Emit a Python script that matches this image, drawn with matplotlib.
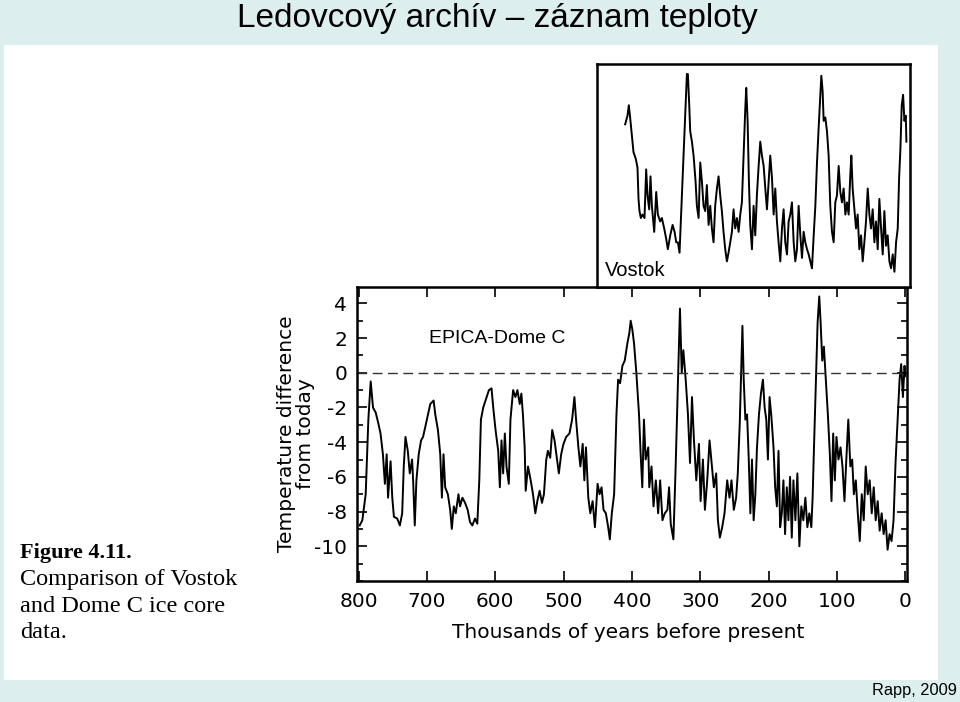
import matplotlib.pyplot as plt
from matplotlib.patches import Rectangle
from matplotlib.ticker import MultipleLocator

plt.rcParams['axes.unicode_minus'] = False

# EPICA Dome C, ka BP and temperature difference (deg C)
epica_age = [798.5, 794.6, 789.7, 785.8, 782.4, 779.0, 775.0, 771.3, 768.0, 764.5,
             761.6, 759.0, 757.0, 753.3, 750.8, 748.4, 743.6, 739.7, 736.3, 734.0,
             731.5, 728.1, 725.2, 721.8, 720.3, 717.9, 715.5, 712.1, 708.7, 705.8,
             702.4, 698.6, 695.2, 690.3, 687.9, 684.0, 680.6, 678.2, 675.8, 673.4,
             669.5, 666.1, 663.7, 660.8, 657.9, 654.0, 651.6, 648.2, 644.3, 640.5,
             637.1, 633.7, 629.8, 626.4, 623.5, 621.1, 617.7, 612.8, 609.4, 605.6,
             603.1, 599.7, 595.8, 593.4, 591.0, 588.6, 586.1, 583.7, 580.3, 577.9,
             574.0, 570.6, 567.7, 564.3, 561.9, 559.5, 557.1, 555.6, 552.2, 548.3,
             544.9, 541.5, 538.6, 535.2, 531.8, 528.9, 525.5, 523.1, 519.7, 516.8,
             513.4, 510.0, 507.1, 503.7, 500.3, 496.4, 491.6, 487.7, 484.3, 481.9,
             478.5, 475.6, 472.2, 469.8, 467.4, 464.0, 461.1, 457.7, 454.3, 450.4,
             447.5, 444.6, 441.7, 438.3, 434.9, 432.5, 429.6, 426.2, 422.8, 420.4,
             417.5, 414.1, 410.7, 406.8, 403.9, 402.0, 399.6, 397.1, 393.7, 389.8,
             387.4, 385.0, 382.6, 380.1, 376.3, 374.8, 371.5, 368.6, 365.2, 361.8,
             358.9, 355.5, 352.1, 348.3, 345.8, 343.4, 339.5, 336.2, 332.8, 329.9,
             327.3, 324.9, 321.5, 318.2, 315.2, 312.3, 309.4, 306.0, 302.1, 299.7,
             296.3, 293.4, 290.0, 286.6, 283.6, 280.3, 276.9, 274.4, 271.5, 268.1,
             264.7, 260.8, 257.4, 254.5, 251.1, 247.7, 245.3, 242.4, 240.0, 238.5,
             236.6, 234.2, 231.7, 229.3, 226.9, 224.5, 222.1, 219.6, 217.2, 214.3,
             211.4, 208.5, 206.0, 203.6, 201.2, 198.8, 196.4, 193.0, 190.6, 188.1,
             185.7, 183.3, 180.9, 178.5, 176.1, 173.6, 171.2, 168.8, 166.3, 163.9,
             161.0, 158.1, 155.2, 152.3, 149.4, 146.4, 143.5, 140.6, 137.7, 135.8,
             133.8, 130.9, 128.5, 126.1, 124.1, 121.7, 119.3, 116.4, 113.5, 110.6,
             108.2, 105.7, 103.3, 100.9, 98.0, 95.0, 92.1, 89.2, 86.5, 83.6,
             80.6, 77.9, 75.5, 72.6, 69.7, 66.8, 63.9, 61.0, 58.1, 55.2,
             52.3, 49.3, 46.4, 43.5, 40.6, 37.7, 34.8, 31.9, 29.0, 26.1,
             23.2, 20.3, 17.4, 14.5, 11.5, 8.6, 6.2, 3.7, 1.3, 0.3]
epica_temp = [-8.8, -8.5, -7.0, -2.7, -0.5, -2.0, -2.3, -2.9, -3.5, -4.7,
              -6.4, -4.7, -7.2, -5.1, -7.2, -8.3, -8.4, -8.8, -8.1, -5.4,
              -3.7, -4.5, -5.8, -5.0, -6.2, -8.8, -6.2, -4.7, -3.9, -3.7,
              -3.1, -2.4, -1.8, -1.6, -2.4, -3.3, -4.7, -7.2, -4.7, -6.6,
              -7.0, -7.9, -9.0, -7.7, -8.1, -7.0, -7.7, -7.2, -7.5, -7.9,
              -8.6, -8.8, -8.4, -8.7, -6.2, -2.7, -2.0, -1.4, -1.0, -0.9,
              -2.0, -3.3, -4.5, -6.6, -3.9, -5.8, -3.5, -5.4, -6.4, -2.7,
              -1.0, -1.4, -1.0, -1.8, -1.2, -2.5, -4.3, -6.8, -5.4, -6.2,
              -7.0, -8.1, -7.4, -6.8, -7.5, -7.0, -5.0, -4.5, -4.9, -3.3,
              -3.9, -4.9, -5.8, -4.7, -4.1, -3.7, -3.5, -2.7, -1.4, -2.7,
              -4.3, -5.4, -4.1, -6.2, -4.3, -7.2, -8.1, -7.4, -8.9, -6.4,
              -7.0, -6.6, -7.9, -8.1, -8.9, -9.6, -8.1, -7.0, -2.4, -0.4,
              -0.6, 0.4, 0.7, 1.7, 2.3, 3.0, 2.5, 1.7, 0.0, -2.4,
              -4.7, -6.6, -2.7, -5.0, -4.3, -6.6, -5.4, -7.7, -6.2, -8.1,
              -6.2, -8.5, -8.1, -7.9, -6.6, -8.7, -9.6, -5.4, -0.4, 3.7,
              0.0, 1.3, -0.4, -2.4, -5.2, -1.4, -3.9, -6.2, -4.1, -7.4,
              -5.0, -7.9, -6.2, -3.9, -5.2, -6.6, -5.8, -8.5, -9.5, -8.9,
              -8.1, -6.2, -7.2, -6.2, -7.9, -7.2, -5.8, -2.9, 0.5, 2.7,
              -0.4, -2.7, -2.4, -4.9, -8.1, -5.0, -8.5, -7.0, -4.3, -2.4,
              -1.2, -0.4, -2.0, -2.7, -5.0, -1.4, -2.4, -4.3, -6.6, -7.7,
              -4.5, -8.9, -8.1, -6.2, -9.3, -6.6, -8.5, -6.0, -9.5, -6.2,
              -8.5, -5.8, -10.0, -7.7, -8.5, -7.2, -8.9, -8.1, -8.9, -7.2,
              -4.3, -0.4, 2.9, 4.4, 2.9, 0.7, 1.5, -0.4, -2.4, -4.7,
              -7.4, -3.5, -6.2, -3.7, -5.0, -4.3, -5.4, -7.4, -5.0, -2.7,
              -5.4, -5.0, -7.0, -6.2, -8.1, -9.7, -7.0, -8.5, -5.4, -7.0,
              -6.2, -8.1, -6.6, -8.5, -7.4, -9.1, -8.1, -9.3, -8.5, -10.2,
              -9.3, -9.7, -8.5, -5.2, -2.7, -0.4, 0.5, -1.4, 0.4, -0.2]

# Vostok, ka BP and temperature difference (deg C)
vostok_age = [408.8, 405.4, 403.5, 401.6, 399.2, 396.7, 393.3, 390.9, 389.4, 388.0,
              386.0, 383.6, 380.7, 378.3, 376.3, 373.9, 372.0, 370.0, 366.6, 363.7,
              361.3, 357.9, 355.5, 352.1, 349.2, 346.8, 343.3, 339.9, 337.0, 334.6,
              332.2, 329.8, 326.4, 324.0, 321.1, 319.1, 317.7, 315.7, 314.3, 311.8,
              309.4, 306.5, 304.6, 302.1, 299.7, 297.3, 294.9, 292.5, 290.1, 287.6,
              285.2, 282.8, 280.4, 278.0, 275.5, 273.1, 270.7, 268.3, 265.9, 263.4,
              261.0, 258.6, 256.2, 253.7, 251.3, 248.9, 246.4, 244.0, 241.6, 239.2,
              236.7, 234.3, 232.9, 230.9, 229.0, 227.1, 224.6, 222.2, 219.8, 217.4,
              214.9, 212.5, 210.1, 207.6, 205.2, 202.8, 200.4, 198.0, 195.5, 193.1,
              190.7, 188.3, 185.9, 183.4, 181.0, 178.6, 176.2, 173.7, 171.3, 168.9,
              166.5, 164.0, 161.6, 159.2, 156.8, 154.3, 151.9, 149.5, 147.1, 144.6,
              142.2, 139.8, 137.4, 134.9, 132.5, 130.1, 127.7, 125.2, 123.8, 121.9,
              120.4, 118.0, 115.6, 113.2, 110.8, 108.3, 105.9, 103.5, 101.1, 98.6,
              96.2, 93.8, 91.4, 88.9, 86.5, 84.1, 81.7, 80.2, 78.3, 75.8,
              73.4, 71.0, 68.6, 66.1, 63.7, 61.3, 58.9, 56.4, 54.0, 51.6,
              49.2, 46.7, 44.3, 41.9, 39.5, 37.0, 34.6, 32.2, 29.8, 27.4,
              24.9, 22.5, 20.1, 17.6, 15.2, 12.8, 10.8, 8.9, 7.0, 5.0,
              3.1, 1.1, 0.2]
vostok_temp = [0.5, 1.0, 1.6, 0.9, -0.1, -1.1, -1.5, -2.0, -3.8, -4.5,
               -4.9, -4.7, -4.9, -2.1, -3.6, -4.4, -2.5, -4.2, -5.7, -3.4,
               -4.7, -5.1, -4.9, -5.5, -6.1, -6.7, -5.9, -5.3, -5.7, -6.3,
               -6.3, -6.9, -3.6, -1.3, 1.4, 3.4, 3.4, 1.6, 0.1, -0.5,
               -1.3, -2.8, -4.2, -4.9, -1.7, -2.8, -4.2, -4.5, -3.0, -5.3,
               -4.2, -5.5, -6.3, -4.2, -3.2, -2.5, -3.6, -4.5, -5.7, -6.7,
               -7.4, -6.9, -6.3, -5.7, -4.4, -5.5, -4.9, -5.7, -4.7, -4.0,
               -1.3, 1.4, 2.6, 0.7, -2.8, -5.3, -6.7, -4.2, -5.9, -3.6,
               -1.9, -0.5, -1.3, -1.9, -3.2, -4.4, -2.8, -1.3, -2.6, -4.7,
               -3.2, -5.1, -6.3, -7.4, -5.5, -4.4, -6.3, -7.0, -5.1, -4.7,
               -4.0, -6.3, -7.4, -6.7, -4.2, -5.9, -7.2, -5.7, -6.3, -6.7,
               -7.0, -7.4, -7.8, -5.9, -4.2, -1.7, 0.3, 2.2, 3.3, 2.4,
               0.7, 0.9, 0.1, -1.3, -4.2, -5.7, -6.3, -4.0, -3.6, -1.9,
               -3.4, -4.0, -3.2, -4.7, -4.0, -4.7, -2.4, -1.3, -3.2, -4.4,
               -5.5, -4.7, -6.7, -5.9, -7.4, -6.3, -5.1, -3.2, -4.7, -5.5,
               -4.4, -6.3, -5.1, -6.7, -3.8, -5.5, -7.0, -4.5, -6.5, -5.9,
               -7.4, -7.8, -7.0, -8.0, -6.3, -5.5, -2.6, -0.9, 1.6, 2.2,
               0.7, 1.0, -0.5]

x_ticks = [800, 700, 600, 500, 400, 300, 200, 100, 0]
y_ticks = [4, 2, 0, -2, -4, -6, -8, -10]

fig = plt.figure(figsize=(9.6, 7.02), dpi=100, facecolor='#dceeed')
fig.add_artist(Rectangle((4 / 960, 1 - 680 / 702), 934 / 960, 635 / 702,
                         transform=fig.transFigure, facecolor='white',
                         edgecolor='none', zorder=0))

# lower panel: EPICA Dome C
ax = fig.add_axes([0.3716, 0.1724, 0.5732, 0.4192])
ax.plot(epica_age, epica_temp, color='black', lw=1.4)
ax.axhline(0, color='#333333', lw=1.0, ls=(0, (7, 4)))
ax.set_xlim(802.8, -2.3)
ax.set_ylim(-12.0, 4.96)
ax.set_xticks(x_ticks)
ax.set_yticks(y_ticks)
ax.yaxis.set_minor_locator(MultipleLocator(1))
ax.tick_params(which='both', direction='in', top=True, right=True, width=1.2,
               labelsize=14.5)
ax.tick_params(which='major', length=7)
ax.tick_params(which='minor', length=4)
ax.tick_params(axis='y', pad=7)
ax.tick_params(axis='x', pad=8)
for s in ax.spines.values():
    s.set_linewidth(1.8)
ax.text(697, 2.0, 'EPICA-Dome C', fontsize=14, family='Liberation Sans',
        va='center')

fig.text(296 / 960, 1 - 434 / 702, 'Temperature difference\nfrom today',
         rotation=90, ha='center', va='center', fontsize=14.5, linespacing=1.05)
fig.text(628 / 960, 1 - 632 / 702, 'Thousands of years before present',
         ha='center', va='center', fontsize=14.5)

# upper panel: Vostok
vx = fig.add_axes([0.6216, 0.5916, 0.3263, 0.3168])
vx.plot(vostok_age, vostok_temp, color='black', lw=1.4)
vx.set_xlim(450.1, -5.0)
vx.set_ylim(-8.86, 3.96)
vx.set_xticks([])
vx.set_yticks([])
for s in vx.spines.values():
    s.set_linewidth(1.8)
vx.text(438, -7.9, 'Vostok', fontsize=14.5, family='Liberation Sans',
        va='center')

# slide texts
fig.text(497 / 960, 1 - 19 / 702, 'Ledovcový archív – záznam teploty',
         ha='center', va='center', fontsize=24, family='Liberation Sans')
fig.text(20 / 960, 1 - 553 / 702, 'Figure 4.11.', family='Liberation Serif',
         weight='bold', fontsize=16, va='center')
caption = ['Comparison of Vostok', 'and Dome C ice core', 'data.']
for k, line in enumerate(caption):
    fig.text(20 / 960, 1 - (580 + 26.5 * k) / 702, line,
             family='Liberation Serif', fontsize=17.5, va='center')
fig.text(957 / 960, 1 - 690 / 702, 'Rapp, 2009', ha='right', va='center',
         fontsize=11.8, family='Liberation Sans')

fig.savefig('out.png', dpi=100)
